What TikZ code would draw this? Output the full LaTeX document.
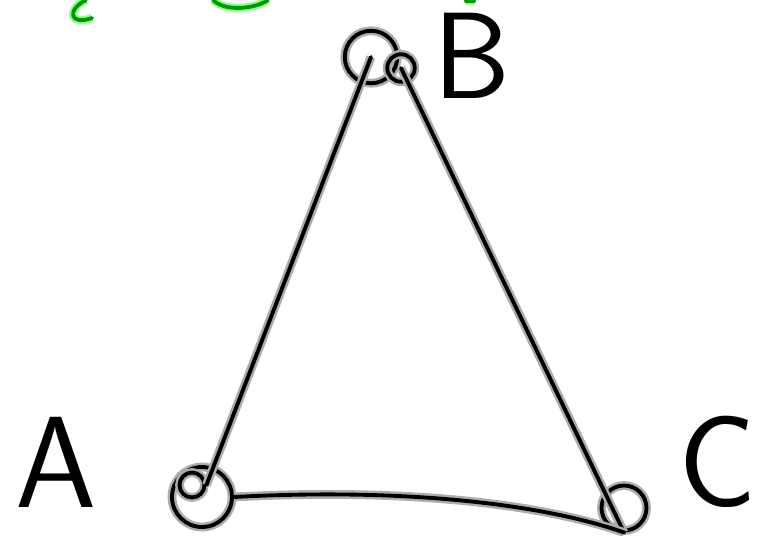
\documentclass[tikz,border=0pt]{standalone}
\usetikzlibrary{positioning}
\tikzset{
  ink/.style={line width=2.2pt, black, line cap=round, line join=round,
    preaction={draw=gray!65, line width=5pt}},
  greenink/.style={line width=2.2pt, green!60!black, line cap=round,
    preaction={draw=green!45, line width=4.6pt}},
  vertex/.style={circle, draw, ink, inner sep=0pt, minimum size=#1},
  letter/.style={font=\sffamily\fontsize{#1}{#1}\selectfont, inner sep=1pt}
}
\begin{document}
\begin{tikzpicture}[x=0.02cm, y=-0.02cm]
    \useasboundingbox (0,0) rectangle (763,535);
    % green scraps along the top edge
    \draw[greenink] (86,0) .. controls (66,10) and (70,26) .. (92,18);
    \draw[greenink] (213,0) .. controls (225,12) and (255,9) .. (268,0);
    \draw[greenink] (466,1) -- (474,1);

    % corners
    \node[vertex=1.2cm] (a) at (202,497) {};
    \node[vertex=0.5cm] (aloop) at (192,485) {};
    \node[vertex=1.05cm] (b) at (371,57) {};
    \node[vertex=0.55cm] (bloop) at (401,68) {};
    \node[vertex=0.9cm] (c) at (624,508) {};

    % sides
    \draw[ink] (aloop.east) -- (b.center);
    \draw[ink] (bloop.center) -- (c.south);
    \draw[ink] (a.east) .. controls (400,488) and (540,503) .. (c.south);

    % names
    \node[letter=74] (la) at (56,462) {A};
    \node[letter=70] (lb) at (472,56) {B};
    \node[letter=74] (lc) at (718,462) {C};
\end{tikzpicture}
\end{document}
